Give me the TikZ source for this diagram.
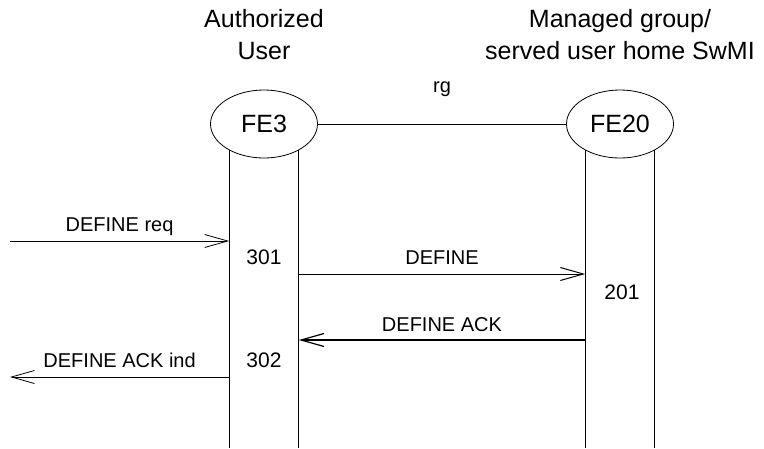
\documentclass[tikz,border=0pt]{standalone}
\usepackage{fontspec}
\setmainfont{Liberation Sans}
\usetikzlibrary{positioning,shapes.geometric,arrows.meta}

\begin{document}
\begin{tikzpicture}[x=1pt,y=-1pt,
    fe/.style={ellipse,draw,line width=0.8pt,minimum width=107pt,minimum height=68pt,inner sep=0pt,font=\fontsize{25}{28}\selectfont},
    title/.style={align=center,inner sep=0pt,font=\fontsize{25}{32}\selectfont},
    life/.style={line width=0.9pt},
    msg/.style={line width=0.8pt,-{Straight Barb[length=23pt,width=13pt]}},
    lbl/.style={inner sep=0pt,text height=14pt,text depth=4pt,font=\fontsize{20}{24}\selectfont},
    num/.style={font=\fontsize{21}{24}\selectfont}]
  \useasboundingbox (0,0) rectangle (764,448);

  \node[fe] (fe3) at (264,124) {FE3};
  \node[fe] (fe20) at (620,124) {FE20};
  \node[title, above=30pt of fe3] (fe3title) {Authorized\\User};
  \node[title, above=30pt of fe20] (fe20title) {Managed group/\\served user home SwMI};
  \draw[line width=0.8pt] (fe3) -- node[lbl, above=27pt] (rg) {rg} (fe20);

  \coordinate (bot) at (0,448);
  \draw[life] (fe3.-143) -- (fe3.-143 |- bot);
  \draw[life] (fe3.-37) -- (fe3.-37 |- bot);
  \draw[life] (fe20.-143) -- (fe20.-143 |- bot);
  \draw[life] (fe20.-37) -- (fe20.-37 |- bot);

  \coordinate (reqin) at (10,241);
  \coordinate (define) at (0,274);
  \coordinate (ack) at (0,340);
  \coordinate (indout) at (10,377);

  \draw[msg] (reqin) -- node[lbl, above=5pt] (reqlbl) {DEFINE req} (reqin -| fe3.-143);
  \node[num] (n301) at (264,257) {301};
  \draw[msg, line width=1pt] (fe3.-37 |- define) -- node[lbl, above=5pt] (deflbl) {DEFINE} (fe20.-143 |- define);
  \node[num] (n201) at (622,292) {201};
  \draw[msg, line width=1.2pt] (fe20.-143 |- ack) -- node[lbl, above=4pt] (acklbl) {DEFINE ACK} (fe3.-37 |- ack);
  \node[num] (n302) at (264,360) {302};
  \draw[msg] (indout -| fe3.-143) -- node[lbl, above=5pt] (indlbl) {DEFINE ACK ind} (indout);
\end{tikzpicture}
\end{document}
